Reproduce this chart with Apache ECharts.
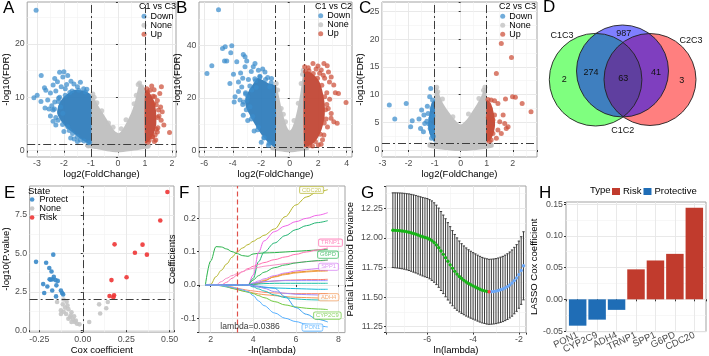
<!DOCTYPE html>
<html><head><meta charset="utf-8">
<script src="https://cdn.jsdelivr.net/npm/echarts@6/dist/echarts.min.js"></script>
<style>html,body{margin:0;padding:0;background:#fff}#c{width:709px;height:356px}</style>
</head><body><div id="c"></div>
<script>
const FONT = "'Liberation Sans', Arial, Helvetica, sans-serif";

// ---------------- A / B / C : volcano plots ----------------
const volcanoTitles = ['C1 vs C3', 'C1 vs C2', 'C2 vs C3'];
const volcanoLegend = ['Down', 'None', 'Up'];

// dense regions (outlines of the point clouds)
const aNoneArea = [[-1.0,1.3],[-1.0,10.3],[-0.93,10.5],[-0.85,9.6],[-0.7,8.2],[-0.5,6.6],[-0.3,5.0],[-0.1,3.6],[0.05,3.3],[0.2,4.2],[0.35,5.6],[0.5,7.2],[0.62,9.0],[0.72,11.2],[0.8,12.6],[0.9,12.2],[1.0,11.6],[1.0,1.3],[1.2,1.2],[1.2,0.6],[0.8,0.2],[0.4,-0.1],[0,-0.3],[-0.4,-0.1],[-0.8,0.3],[-1.2,0.7],[-1.2,1.3]];
const aDownArea = [[-1.0,1.35],[-1.0,10.4],[-1.15,11.0],[-1.35,11.3],[-1.6,11.4],[-1.85,10.7],[-2.05,9.8],[-2.2,8.5],[-2.25,7.0],[-2.1,5.5],[-1.9,4.3],[-1.6,3.1],[-1.35,2.1],[-1.15,1.5]];
const aUpArea = [[1.0,1.35],[1.0,11.0],[1.1,11.2],[1.22,10.5],[1.34,9.3],[1.41,7.5],[1.42,5.0],[1.33,3.2],[1.2,2.1],[1.08,1.5]];
const aDown = [[-3.03,26.3],[-2.84,14.1],[-3.11,9.9],[-2.99,10.4],[-2.72,11.8],[-2.67,11.3],[-2.34,13.5],[-2.16,14.7],[-2.0,14.8],[-2.04,13.8],[-1.86,14.1],[-2.4,12.3],[-2.24,12.9],[-1.74,13.0],[-1.63,12.5],[-1.39,12.8],[-1.27,11.6],[-2.4,7.6],[-2.34,9.1],[-2.16,10.0],[-2.04,7.0],[-2.22,5.7],[-1.86,4.5],[-1.68,3.2],[-1.39,2.0],[-1.09,1.5],[-2.5,10.8],[-2.3,11.2],[-2.1,12.0],[-1.9,12.4],[-1.5,12.0],[-1.15,11.5],[-2.45,8.4],[-2.5,6.5],[-2.3,4.8],[-2.0,3.6],[-1.75,2.4],[-1.5,1.7],[-2.6,9.5],[-2.55,7.8],[-1.95,11.6],[-2.2,9.8],[-2.7,8.0],[-2.85,9.2],
  [-1.2,11.0],[-1.45,11.3],[-1.7,11.2],[-1.95,10.4],[-2.2,9.2],[-2.35,7.8],[-2.3,6.2],[-2.05,4.9],[-1.8,3.8],[-1.5,2.6],[-1.25,1.8],[-1.05,1.6],[-2.12,8.2],[-1.78,10.9],[-2.4,5.5],[-1.62,2.2]];
const aUp = [[1.07,11.6],[1.19,11.3],[1.34,11.4],[1.61,12.0],[1.36,10.1],[1.46,9.4],[1.32,8.8],[1.58,8.2],[1.64,7.3],[1.70,4.8],[1.6,5.7],[1.91,3.4],[1.46,3.5],[1.28,2.6],[1.16,2.0],[1.4,2.0],[1.52,6.5],[1.48,4.3],[1.25,12.1],[1.55,10.7],[1.12,1.6],[1.35,1.7],
  [1.1,11.0],[1.3,10.2],[1.42,8.6],[1.47,6.2],[1.42,4.0],[1.28,2.6],[1.5,7.6],[1.38,3.0]];
const aNone = [[-0.93,10.6],[-0.88,10.0],[0.8,12.7],[0.75,12.4],[0.88,12.0],[-1.1,0.9],[1.1,0.8],[-0.6,7.5],[0.6,8.8],[0.3,5.8],[-0.35,5.2],[0.95,11.2],[-0.78,9.0],[0.68,10.4],[0.12,4.1],[-0.18,4.4]];

const bNoneArea = [[-1.0,1.3],[-1.0,25.0],[-0.9,24],[-0.75,20.5],[-0.55,15.5],[-0.35,11.5],[-0.15,8.5],[0,7.6],[0.15,8.5],[0.35,11.5],[0.55,16],[0.75,22],[0.9,28],[0.97,30.5],[1.0,29],[1.0,1.3],[1.3,1.2],[1.3,0.4],[0.7,-0.2],[0,-0.6],[-0.7,-0.2],[-1.3,0.4],[-1.3,1.3]];
const bDownArea = [[-1.0,1.4],[-1.0,24.5],[-1.2,25.2],[-1.5,25.6],[-1.9,26.8],[-2.25,27.6],[-2.55,25.5],[-2.9,22.5],[-3.1,19.8],[-3.1,17],[-2.85,14],[-2.45,10],[-2.0,6.2],[-1.6,3.6],[-1.3,2.1]];
const bUpArea = [[1.0,1.4],[1.0,29.5],[1.2,30.0],[1.5,29.6],[1.8,28.2],[2.1,26.0],[2.3,22.5],[2.45,18],[2.45,13],[2.25,8.2],[1.95,4.7],[1.6,2.6],[1.25,1.6]];
const bDown = [[-5.0,53.5],[-5.81,29.3],[-5.47,32.2],[-4.72,38.8],[-4.53,39.4],[-4.07,39.8],[-4.14,37.2],[-4.58,34.0],[-4.42,34.0],[-3.72,33.7],[-3.26,36.5],[-3.14,35.6],[-3.02,34.0],[-3.14,31.8],[-2.56,31.8],[-2.44,33.1],[-3.6,26.1],[-3.37,24.2],[-3.84,20.5],[-3.49,19.2],[-3.26,13.5],[-2.79,16.7],[-2.09,28.0],[-1.74,29.9],[-1.28,27.4],[-1.4,24.2],[-2.67,23],[-3.9,18.5],[-3.6,22.5],[-3.3,27.5],[-2.9,27],[-2.7,30],[-2.2,30.5],[-1.9,31],[-3.0,19],[-2.6,13],[-2.2,9],[-1.8,5],[-3.45,29.5],[-4.2,25.5],[-3.95,29],[-3.3,17.5],[-2.95,11.5],[-2.5,7.5],[-2.0,3.2],[-1.5,2.0],[-3.1,22],[-2.4,26.5],
  [-1.3,25.8],[-1.7,27],[-2.1,28.2],[-2.45,27.3],[-2.8,24.5],[-3.1,21.5],[-3.25,18.5],[-3.05,15.5],[-2.7,12],[-2.25,8],[-1.8,4.8],[-1.45,2.8],[-2.95,20.5],[-2.35,24],[-1.55,27.8]];
const bUp = [[1.63,33.1],[1.98,32.1],[2.4,33.1],[2.63,32.2],[2.72,29.9],[2.91,28],[2.79,26.1],[3.09,24.9],[3.42,21.7],[3.95,18.3],[3.09,11],[3.33,10.4],[2.91,14.1],[2.21,30.6],[1.3,31.5],[2.6,22],[2.8,19.5],[2.7,16],[2.55,12],[2.65,9],[2.4,6],[1.85,31],[2.45,27.5],[3.2,22],[2.2,2.5],[1.05,31.8],[2.3,4.2],[2.0,2.2],[1.6,1.8],[2.9,12.3],
  [1.1,30],[1.35,30.3],[1.65,29.3],[1.95,27.5],[2.25,24.8],[2.45,20.5],[2.52,15.5],[2.42,10.5],[2.15,6.2],[1.8,3.5],[1.4,2.0],[2.35,28.6],[2.6,17.5],[2.1,29.4]];
const bNone = [[-0.95,25.5],[0.95,30.5],[0.9,29],[-0.85,23],[0.6,18],[-0.6,16],[1.2,1.0],[-1.2,1.0],[0.3,11.5],[-0.3,11],[0.8,25.5],[-0.45,13.8]];

const cNoneArea = [[-1.0,1.3],[-1.0,10.3],[-0.92,11.3],[-0.8,9.8],[-0.65,8.2],[-0.45,6.8],[-0.25,5.6],[0,4.6],[0.25,5.6],[0.45,7.0],[0.65,8.5],[0.82,10.0],[0.93,11.3],[1.0,9.8],[1.0,1.3],[1.25,1.2],[1.25,0.5],[0.6,0.0],[0,-0.2],[-0.6,0.0],[-1.25,0.5],[-1.25,1.3]];
const cDownArea = [[-1.0,1.4],[-1.0,9.0],[-1.12,8.5],[-1.2,6.5],[-1.25,4.5],[-1.2,3.0],[-1.1,2.0]];
const cUpArea = [[1.0,1.4],[1.0,9.0],[1.15,8.5],[1.28,6.5],[1.32,4.5],[1.25,2.8],[1.12,1.8]];
const cDown = [[-2.74,8.1],[-2.53,5.6],[-2.09,8.4],[-1.86,5.3],[-1.92,4.2],[-1.6,5.6],[-1.5,7.2],[-1.41,6.3],[-1.38,4.8],[-1.54,3.9],[-1.28,7.9],[-1.19,9.6],[-1.15,11.1],[-1.25,6.6],[-1.15,5.7],[-1.21,4.7],[-1.17,3.9],[-1.08,9.0],[-1.43,3.3],[-1.11,3.3],[-1.08,4.2],[-1.05,2.5],[-1.1,7.5],[-1.3,5.2],[-1.07,6.2],[-1.12,2.1]];
const cUp = [[1.56,19.2],[1.95,16.7],[1.37,13.8],[1.99,9.6],[1.72,9.2],[2.7,6.9],[2.36,8.4],[1.05,9.1],[1.17,9.0],[1.43,8.4],[1.14,7.4],[1.3,6.3],[1.24,5.4],[1.5,5.1],[1.69,4.8],[1.75,3.9],[1.17,4.2],[1.07,3.3],[1.24,3.0],[1.43,3.6],[1.56,3.0],[1.11,2.4],[1.37,2.1],[1.17,1.8],[1.63,6.3],[1.82,4.2],[1.06,5.8],[1.1,1.6],[1.3,8.9],[2.1,9.5]];
const cNone = [[-0.92,11.3],[-0.88,10.5],[0.93,11.3],[0.88,10.8],[-0.7,9.2],[0.7,9.3],[1.15,1.0],[-1.15,1.0],[0.3,6.5],[-0.3,6]];

const fcCutoff = 1;          // |log2FC| threshold
const fdrCutoff = 1.3;       // -log10(0.05)

// ---------------- D : Venn ----------------
const vennSets = ['C1C3', 'C1C2', 'C2C3'];
const vennCounts = [2, 274, 987, 63, 41, 3];

// ---------------- E : univariate Cox ----------------
const eLegend = ['Protect', 'None', 'Risk'];
const eProtect = [[-0.269,4.45],[-0.211,4.39],[-0.170,4.92],[-0.193,4.05],[-0.180,3.82],[-0.228,3.0],[-0.204,2.84],[-0.222,2.42],[-0.191,3.32],[-0.174,3.32],[-0.167,3.47],[-0.157,3.26],[-0.176,2.58],[-0.152,2.92],[-0.144,3.21],[-0.126,2.58],[-0.119,2.42],[-0.154,2.2],[-0.113,2.33],[-0.185,3.28]];
const eNone = [[-0.111,2.0],[-0.093,1.85],[-0.148,1.83],[-0.115,1.68],[-0.102,1.47],[-0.126,1.30],[-0.083,1.37],[-0.065,1.16],[-0.096,1.05],[-0.074,0.84],[-0.056,0.69],[-0.046,0.53],[-0.033,0.42],[-0.065,0.53],[-0.019,0.38],[-0.083,0.74],[-0.05,0.9],[-0.126,1.05],[0.094,1.68],[0.144,1.83],[0.135,1.43],[0.100,1.09],[0.037,0.53],[-0.04,0.62],[-0.07,0.95],[-0.11,1.2],[-0.088,1.6]];
const eRisk = [[0.487,9.0],[0.446,7.14],[0.183,5.59],[0.344,5.57],[0.300,5.04],[0.369,4.92],[0.252,3.45],[0.165,3.26],[0.154,2.23],[0.180,2.27],[0.176,2.14]];
const ePCut = 2;

// ---------------- F : LASSO coefficient paths ----------------
const fX = [1.75,2.0,2.25,2.5,2.75,3.0,3.25,3.5,3.75,4.0,4.25,4.5,5.0,5.5,6.0,6.5,7.0,7.5];
const fNames = ['CDC20','gene02','gene03','gene04','TRNP1','gene06','G6PD','SPP1','gene09','gene10','gene11','gene12','gene13','gene14','gene15','ADH4','gene17','CYP2C9','gene19','PON1','gene21'];
const fCoefs = [
 [0,0.002,0.025,0.044,0.063,0.083,0.1,0.111,0.121,0.131,0.14,0.149,0.168,0.205,0.24,0.264,0.279,0.286],
 [0,0.072,0.115,0.114,0.108,0.1,0.094,0.088,0.086,0.093,0.095,0.096,0.097,0.099,0.101,0.103,0.105,0.107],
 [0,0,0,0,0,0,0,0,0,0.03,0.098,0.132,0.16,0.177,0.19,0.2,0.209,0.217],
 [0,0,0,0,0,0,0,0,0,0.02,0.07,0.098,0.126,0.148,0.166,0.178,0.187,0.193],
 [0,0,0,0,0.008,0.02,0.03,0.04,0.049,0.056,0.062,0.067,0.076,0.084,0.092,0.099,0.105,0.111],
 [0,0,0,0.01,0.02,0.028,0.034,0.04,0.046,0.05,0.053,0.056,0.06,0.064,0.067,0.07,0.072,0.074],
 [0,0,0,0,0,0,0,0,0,0.015,0.028,0.038,0.052,0.06,0.066,0.07,0.073,0.075],
 [0,0,0,0,0,0,0,0,0,0.006,0.012,0.018,0.028,0.036,0.042,0.046,0.049,0.052],
 [0,0,0,0,0,0,0,0,0,0,0.004,0.012,0.025,0.033,0.038,0.041,0.043,0.044],
 [0,0,0,0,0,0,0,0,0,0.003,0.008,0.014,0.024,0.031,0.036,0.039,0.041,0.042],
 [0,0,0,0,0,0,0,0,0,0.004,0.007,0.009,0.012,0.014,0.015,0.016,0.016,0.017],
 [0,0,0,0,0,0,0,0,0,0.005,0.008,0.01,0.012,0.013,0.013,0.013,0.013,0.013],
 [0,0,0,0,0,0,0,0,0,0.002,0.003,0.004,0.005,0.005,0.005,0.005,0.005,0.005],
 [0,0,0,0,0,0,0,0,0,-0.004,-0.006,-0.008,-0.009,-0.01,-0.011,-0.012,-0.013,-0.013],
 [0,0,0,0,-0.003,-0.006,-0.01,-0.013,-0.016,-0.018,-0.02,-0.022,-0.024,-0.025,-0.026,-0.026,-0.026,-0.026],
 [0,0,0,0,-0.005,-0.01,-0.013,-0.018,-0.02,-0.024,-0.027,-0.029,-0.032,-0.035,-0.037,-0.038,-0.039,-0.04],
 [0,0,0,0,0,0,0,0,0,-0.006,-0.012,-0.018,-0.03,-0.038,-0.042,-0.044,-0.045,-0.045],
 [0,0,0,-0.003,-0.006,-0.01,-0.014,-0.018,-0.022,-0.026,-0.032,-0.038,-0.05,-0.06,-0.066,-0.07,-0.072,-0.074],
 [0,0,0,0,0,0,0,0,0,-0.002,-0.004,-0.006,-0.01,-0.035,-0.068,-0.088,-0.103,-0.111],
 [0,0,0,-0.002,-0.005,-0.008,-0.011,-0.015,-0.02,-0.032,-0.048,-0.062,-0.084,-0.1,-0.11,-0.118,-0.123,-0.126],
 [0,0,0,0,0,0,0,0,0,-0.003,-0.006,-0.01,-0.02,-0.025,-0.028,-0.029,-0.03,-0.03]
];
const fLabelled = ['CDC20','TRNP1','G6PD','SPP1','ADH4','CYP2C9','PON1'];
const fLambdaMin = 0.0386;

// ---------------- G : cross-validation ----------------
const gLnLambda = [-7.5,-7.4,-7.3,-7.2,-7.1,-7.0,-6.9,-6.8,-6.7,-6.6,-6.5,-6.4,-6.3,-6.2,-6.1,-6.0,-5.9,-5.8,-5.7,-5.6,-5.5,-5.4,-5.3,-5.2,-5.1,-5.0,-4.9,-4.8,-4.7,-4.6,-4.5,-4.4,-4.3,-4.2,-4.1,-4.0,-3.9,-3.8,-3.7,-3.6,-3.5,-3.4,-3.3,-3.2,-3.1,-3.0,-2.9,-2.8,-2.7,-2.6,-2.5,-2.4,-2.3,-2.2,-2.1,-2.0,-1.9,-1.8];
const gMean = [12.066,12.065,12.064,12.062,12.060,12.057,12.053,12.049,12.044,12.038,12.032,12.025,12.018,12.011,12.005,
 12.000,11.990,11.978,11.962,11.942,11.918,11.890,11.862,11.833,11.803,11.773,11.745,11.718,11.695,11.675,11.657,11.642,11.628,11.616,11.605,11.595,
 11.586,11.576,11.567,11.559,11.553,11.548,11.545,11.546,11.548,11.551,11.556,11.562,11.569,11.578,11.589,11.603,11.619,11.640,11.662,11.690,11.725,11.765];
const gSd = [.316,.317,.318,.319,.320,.321,.322,.324,.325,.327,.328,.329,.331,.332,.333,
 .334,.335,.336,.336,.336,.335,.334,.332,.330,.327,.323,.318,.312,.306,.300,.295,.291,.288,.285,.283,.281,
 .280,.279,.278,.277,.276,.276,.275,.275,.275,.275,.275,.276,.276,.277,.278,.279,.280,.281,.282,.284,.286,.288];

// ---------------- H : LASSO coefficients ----------------
const hGenes = ['PON1','CYP2C9','ADH4','TRNP1','SPP1','G6PD','CDC20'];
const hCoef = [-0.0415,-0.032,-0.0166,0.0472,0.0612,0.0716,0.1444];
const hType = ['Protective','Protective','Protective','Risk','Risk','Risk','Risk'];
const hLegend = ['Risk','Protective'];

// =====================================================================
const chart = echarts.init(document.getElementById('c'), null, {renderer:'canvas', width:709, height:356});

function valAxis(o) {
  return {
    type:'value', gridIndex:o.grid, min:o.min, max:o.max,
    minInterval:o.step, maxInterval:o.step,
    splitNumber: Math.max(1, Math.round((o.max - o.min) / o.step)),
    show: o.show !== false,
    inverse: !!o.inverse,
    name:o.name || '', nameLocation:'middle', nameGap:o.gap || 10,
    nameTextStyle:{fontSize:9.5, color:'#000', fontFamily:FONT},
    axisLine:{show:false},
    axisTick:{show:true, length:2, lineStyle:{color:'#333', width:1}},
    axisLabel:{show:true, margin:o.margin == null ? 2.5 : o.margin, fontSize:o.fs || 8.8, color:'#4d4d4d',
      fontFamily:FONT, rotate:o.rotate || 0,
      formatter:function (v) {
        const k = v / o.step, r = Math.round(k);
        if (Math.abs(k - r) > 1e-6) return '';
        let val = r * o.step; if (Math.abs(val) < 1e-12) val = 0;
        return o.fmt ? o.fmt(val) : val.toFixed(o.dec);
      }},
    splitLine:{show:true, showMinLine:false, showMaxLine:false, lineStyle:{color:'#e6e6e6', width:0.9}},
    minorTick:{show:false, splitNumber:2},
    minorSplitLine:{show:o.minor !== false, lineStyle:{color:'#f1f1f1', width:0.6}}
  };
}

const gridBox = {show:true, borderColor:'#a3a3a3', borderWidth:1, backgroundColor:'#fff', containLabel:false};
const grids = [
  Object.assign({left:22, top:2, width:154, height:155}, gridBox),   // A
  Object.assign({left:199, top:2, width:153, height:155}, gridBox),  // B
  Object.assign({left:382, top:2, width:155, height:155}, gridBox),  // C
  Object.assign({left:26, top:186, width:148, height:151}, gridBox), // E
  Object.assign({left:199, top:186, width:146, height:149}, gridBox),// F
  Object.assign({left:386, top:186, width:140, height:151}, gridBox),// G
  Object.assign({left:566, top:202, width:140, height:131}, gridBox),// H
  {left:530, top:0, width:179, height:175, show:false}               // D
];

const xAxes = [
  valAxis({grid:0, min:-3.36, max:2.15, step:1, dec:0, name:'log2(FoldChange)', gap:10}),
  valAxis({grid:1, min:-6.37, max:4.37, step:2, dec:0, name:'log2(FoldChange)', gap:10}),
  valAxis({grid:2, min:-3.02, max:2.93, step:1, dec:0, name:'log2(FoldChange)', gap:10}),
  valAxis({grid:3, min:-0.306, max:0.525, step:0.25, dec:2, name:'Cox coefficient', gap:10, margin:3}),
  valAxis({grid:4, min:1.45, max:8.31, step:2, dec:0, name:'-ln(lambda)', gap:9}),
  valAxis({grid:5, min:-7.8, max:-1.69, step:2, dec:0, name:'ln(lambda)', gap:10}),
  valAxis({grid:6, min:0.4, max:7.6, step:1, minor:false, rotate:25, fs:9.5, margin:3,
           fmt:v => hGenes[Math.round(v) - 1] || ''}),
  {type:'value', gridIndex:7, min:0, max:179, show:false}
];
const yAxes = [
  valAxis({grid:0, min:-1.18, max:27.85, step:10, dec:0, name:'-log10(FDR)', gap:10}),
  valAxis({grid:1, min:-2.38, max:56.4, step:20, dec:0, name:'-log10(FDR)', gap:12}),
  valAxis({grid:2, min:-1.26, max:26.7, step:5, dec:0, name:'-log10(FDR)', gap:11}),
  valAxis({grid:3, min:-0.126, max:9.39, step:2.5, dec:1, name:'-log10(P.value)', gap:16}),
  valAxis({grid:4, min:-0.143, max:0.297, step:0.1, dec:1, name:'Coefficients', gap:14, margin:3}),
  valAxis({grid:5, min:11.2, max:12.44, step:0.25, dec:2, name:'Partial Likelihood Deviance', gap:31, margin:3}),
  valAxis({grid:6, min:-0.0508, max:0.1533, step:0.05, dec:2, name:'LASSO Cox coefficient', gap:26, margin:3}),
  {type:'value', gridIndex:7, min:0, max:175, inverse:true, show:false}
];

function areaSeries(gi, pts, color, opacity, z) {
  return {type:'custom', xAxisIndex:gi, yAxisIndex:gi, data:pts, encode:{x:0, y:1}, clip:true, silent:true, z:z,
    renderItem:function (params, api) {
      if (params.dataIndex !== 0) return null;
      return {type:'polygon', shape:{points:pts.map(p => api.coord(p)), smooth:0.25},
              style:{fill:color, opacity:opacity}};
    }};
}
function dots(gi, name, data, color, opacity, size, z) {
  return {type:'scatter', name:name, xAxisIndex:gi, yAxisIndex:gi, data:data, symbolSize:size,
          itemStyle:{color:color, opacity:opacity}, silent:true, z:z, clip:true};
}
const dashStyle = {color:'#3d3d3d', width:1, type:[8,3,2,3]};

const series = [];
const legends = [];
const COL_DOWN = '#3a8ccc', COL_DOWN_D = '#2a79ba', COL_UP = '#cc4d38', COL_UP_D = '#c0412f', COL_NONE = '#c2c2c2';
const volc = [
  {p:'A', noneA:aNoneArea, downA:aDownArea, upA:aUpArea, down:aDown, up:aUp, none:aNone, leg:[141.5, 11.8]},
  {p:'B', noneA:bNoneArea, downA:bDownArea, upA:bUpArea, down:bDown, up:bUp, none:bNone, leg:[318.2, 11.2]},
  {p:'C', noneA:cNoneArea, downA:cDownArea, upA:cUpArea, down:cDown, up:cUp, none:cNone, leg:[500.2, 11.8]}
];
volc.forEach((v, gi) => {
  series.push(areaSeries(gi, v.noneA, COL_NONE, 1, 2));
  series.push(dots(gi, v.p + '|None', v.none, COL_NONE, 0.8, 5, 3));
  series.push(areaSeries(gi, v.downA, COL_DOWN_D, 0.92, 4));
  series.push(areaSeries(gi, v.upA, COL_UP_D, 0.92, 4));
  series.push(dots(gi, v.p + '|Down', v.down, COL_DOWN, 0.72, 5, 5));
  const up = dots(gi, v.p + '|Up', v.up, COL_UP, 0.72, 5, 5);
  up.markLine = {silent:true, symbol:['none','none'], label:{show:false}, lineStyle:dashStyle, animation:false,
    data:[{xAxis:-fcCutoff}, {xAxis:fcCutoff}, {yAxis:fdrCutoff}]};
  series.push(up);
  legends.push({left:v.leg[0], top:v.leg[1], orient:'vertical', padding:0, itemGap:0, itemWidth:5, itemHeight:5,
    icon:'circle', selectedMode:false, data:volcanoLegend.map(n => v.p + '|' + n),
    formatter:n => n.split('|')[1], textStyle:{fontSize:9, color:'#000', fontFamily:FONT, lineHeight:8.3, padding:[0,0,0,-1]}});
});

// ---- D Venn ----
const vennCircles = [ // cx, cy, r (panel units), fill ; drawing order green, red, blue
  [65.6, 79.7, 46.3, 'rgba(0,255,0,0.5)'],
  [120, 79.5, 46, 'rgba(255,0,0,0.5)'],
  [92.5, 71, 46, 'rgba(0,0,255,0.5)']
];
series.push({type:'custom', xAxisIndex:7, yAxisIndex:7, data:vennCircles.map(c => [c[0], c[1], c[2]]), silent:true, z:2,
  renderItem:function (params, api) {
    const c = vennCircles[params.dataIndex];
    const p = api.coord([c[0], c[1]]);
    const r = api.size([c[2], 0])[0];
    return {type:'circle', shape:{cx:p[0], cy:p[1], r:r}, style:{fill:c[3], stroke:null}};
  }});
series.push({type:'custom', xAxisIndex:7, yAxisIndex:7, data:vennCircles.map(c => [c[0], c[1], c[2]]), silent:true, z:3,
  renderItem:function (params, api) {
    const c = vennCircles[params.dataIndex];
    const p = api.coord([c[0], c[1]]);
    const r = api.size([c[2], 0])[0];
    return {type:'circle', shape:{cx:p[0], cy:p[1], r:r}, style:{fill:null, stroke:'#222', lineWidth:0.9}};
  }});
const vennCountPos = [[34.3,80],[61,72.3],[93.7,33.3],[93.3,78.3],[126,72.7],[151.7,80.7]];
const vennSetPos = [[32,35.5],[92.7,130.7],[161,40.7]];
const vennText = vennCounts.map((n, i) => [vennCountPos[i][0], vennCountPos[i][1], String(n)])
  .concat(vennSets.map((s, i) => [vennSetPos[i][0], vennSetPos[i][1], s]));
series.push({type:'custom', xAxisIndex:7, yAxisIndex:7, data:vennText, silent:true, z:4,
  renderItem:function (params, api) {
    const t = vennText[params.dataIndex];
    const p = api.coord([t[0], t[1]]);
    return {type:'text', x:p[0], y:p[1], style:{text:t[2], fill:'#111', font:'9px ' + FONT,
      align:'center', verticalAlign:'middle', textAlign:'center', textVerticalAlign:'middle'}};
  }});

// ---- E ----
const COL_E = {Protect:'#3a89c9', None:'#c4c4c4', Risk:'#ee3535'};
series.push(dots(3, 'E|None', eNone, COL_E.None, 0.9, 4.6, 3));
series.push(dots(3, 'E|Protect', eProtect, COL_E.Protect, 0.9, 4.6, 4));
const eR = dots(3, 'E|Risk', eRisk, COL_E.Risk, 0.9, 4.6, 4);
eR.markLine = {silent:true, symbol:['none','none'], label:{show:false}, lineStyle:dashStyle, animation:false,
  data:[{xAxis:0}, {yAxis:ePCut}]};
series.push(eR);
legends.push({left:29.8, top:195, orient:'vertical', padding:0, itemGap:0, itemWidth:4.6, itemHeight:4.6,
  icon:'circle', selectedMode:false, data:eLegend.map(n => 'E|' + n), formatter:n => n.split('|')[1],
  textStyle:{fontSize:9, color:'#000', fontFamily:FONT, lineHeight:8.2}});

// ---- F ----
const fColors = ['#b5b52a','#2bb34b','#f065e8','#22b573','#ff6fb0','#f78fc6','#35b85c','#d47cf2','#e8891a','#f0a24a',
  '#f8766d','#9b8cff','#19bfa5','#13b9d8','#fb8a70','#f39a57','#20c0b8','#6fc93f','#3aa0f0','#56b0ff','#a58bf5'];
fCoefs.forEach((arr, i) => {
  series.push({type:'line', name:'F|' + fNames[i], xAxisIndex:4, yAxisIndex:4, data:fX.map((x, j) => [x, arr[j]]),
    symbol:'none', showSymbol:false, smooth:0.35, smoothMonotone:'x', silent:true, clip:true, z:3,
    lineStyle:{width:1, color:fColors[i]}, itemStyle:{color:fColors[i]}});
});
series.push({type:'scatter', xAxisIndex:4, yAxisIndex:4, data:[], silent:true, z:6,
  markLine:{silent:true, symbol:['none','none'], label:{show:false}, animation:false,
    lineStyle:{color:'#e0504a', width:1.2, type:[5,3]}, data:[{xAxis:-Math.log(fLambdaMin)}]}});
const fLabelPos = {CDC20:[6.74,0.285], TRNP1:[7.63,0.127], G6PD:[7.51,0.091], SPP1:[7.54,0.0545],
  ADH4:[7.54,-0.037], CYP2C9:[7.48,-0.092], PON1:[6.78,-0.128]};
series.push({type:'scatter', xAxisIndex:4, yAxisIndex:4, silent:true, z:8, symbolSize:0, clip:false,
  data:fLabelled.map(g => {
    const c = fColors[fNames.indexOf(g)];
    return {value:fLabelPos[g], label:{show:true, position:'inside', formatter:g, fontSize:5.8, color:c,
      fontFamily:FONT, backgroundColor:'#fff', borderColor:c, borderWidth:0.8, borderRadius:1.5, padding:[0.5,2.2,0,2.2]}};
  })});
series.push({type:'scatter', xAxisIndex:4, yAxisIndex:4, silent:true, z:8, symbolSize:0, clip:false,
  data:[{value:[3.85,-0.125], label:{show:true, position:'inside', formatter:'lambda=' + fLambdaMin,
    fontSize:8.6, color:'#000', fontFamily:FONT}}]});

// ---- G ----
const gMinIdx = gMean.indexOf(Math.min.apply(null, gMean));
series.push({type:'custom', xAxisIndex:5, yAxisIndex:5, silent:true, z:3, clip:true,
  data:gLnLambda.map((x, i) => [x, gMean[i] - gSd[i], gMean[i] + gSd[i]]), encode:{x:0, y:[1, 2]},
  renderItem:function (params, api) {
    const x = api.value(0);
    const lo = api.coord([x, api.value(1)]), hi = api.coord([x, api.value(2)]);
    const w = 1.15, st = {stroke:'#3b3b3b', lineWidth:1};
    return {type:'group', children:[
      {type:'line', shape:{x1:lo[0], y1:lo[1], x2:hi[0], y2:hi[1]}, style:st},
      {type:'line', shape:{x1:lo[0]-w, y1:lo[1], x2:lo[0]+w, y2:lo[1]}, style:st},
      {type:'line', shape:{x1:hi[0]-w, y1:hi[1], x2:hi[0]+w, y2:hi[1]}, style:st}]};
  }});
series.push(dots(5, 'G|left', gLnLambda.map((x, i) => [x, gMean[i]]).filter((d, i) => i < gMinIdx), '#17b417', 1, 3.4, 5));
series.push(dots(5, 'G|right', gLnLambda.map((x, i) => [x, gMean[i]]).filter((d, i) => i > gMinIdx), '#6aa7f8', 1, 3.4, 5));
series.push(dots(5, 'G|min', [[gLnLambda[gMinIdx], gMean[gMinIdx]]], '#ff3a3a', 1, 3.4, 6));

// ---- H ----
const hColors = {Risk:'#c13b2d', Protective:'#1f6db6'};
hLegend.forEach(t => {
  series.push({type:'bar', name:'H|' + t, xAxisIndex:6, yAxisIndex:6, barWidth:17.5, barGap:'-100%', silent:true, z:3,
    itemStyle:{color:hColors[t]},
    data:hGenes.map((g, i) => hType[i] === t ? [i + 1, hCoef[i]] : null).filter(d => d)});
});
legends.push({left:612, top:186.5, orient:'horizontal', padding:0, itemGap:2, itemWidth:8, itemHeight:7,
  icon:'rect', selectedMode:false, data:hLegend.map(n => 'H|' + n), formatter:n => n.split('|')[1],
  textStyle:{fontSize:9.5, color:'#000', fontFamily:FONT, padding:[0,0,0,-2]}});

const textEl = (t, x, y, size) => ({type:'text', left:x, top:y, silent:true, z:50,
  style:{text:t, font:size + 'px ' + FONT, fill:'#000'}});
const graphic = [
  textEl('A', 3, 0, 17), textEl('B', 176, 0, 17), textEl('C', 359, 0, 17), textEl('D', 543, -1, 17),
  textEl('E', 4, 185, 17), textEl('F', 179, 185, 17), textEl('G', 361, 185, 17), textEl('H', 539, 185, 17),
  textEl(volcanoTitles[0], 139, 2.5, 9), textEl(volcanoTitles[1], 315, 2.5, 9), textEl(volcanoTitles[2], 499, 2.5, 9),
  textEl('State', 28, 186.5, 9.5), textEl('Type', 590, 185.5, 9.5)
];

chart.setOption({
  animation:false,
  backgroundColor:'#fff',
  textStyle:{fontFamily:FONT},
  grid:grids, xAxis:xAxes, yAxis:yAxes, series:series, legend:legends, graphic:graphic
});
</script></body></html>
